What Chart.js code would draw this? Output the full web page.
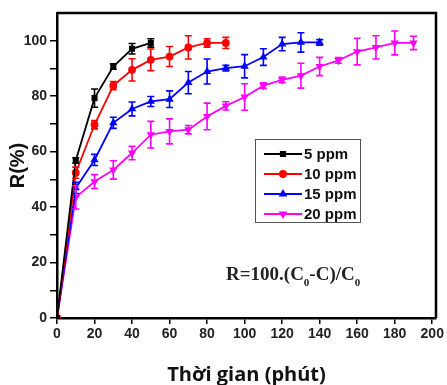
<!DOCTYPE html>
<html>
<head>
<meta charset="utf-8">
<script src="https://cdn.jsdelivr.net/npm/chart.js@4.4.0/dist/chart.umd.min.js"></script>
<style>
  html, body { margin: 0; padding: 0; background: #fff; }
  #wrap { width: 447px; height: 385px; }
</style>
</head>
<body>
<div id="wrap"><canvas id="chart" width="447" height="385"></canvas></div>
<script>
// du lieu doc tu hinh
const time5 = [0, 10, 20, 30, 40, 50];
const r5 = [0, 56.8, 79.3, 90.7, 97.1, 99.2];
const err5 = [0, 1, 3.3, 1, 1.9, 1.5];

const time10 = [0, 10, 20, 30, 40, 50, 60, 70, 80, 90];
const r10 = [0, 52.4, 69.7, 83.8, 89.5, 93.1, 94.3, 97.6, 99.2, 99.2];
const err10 = [0, 2, 1.5, 1.5, 4, 3.9, 3.6, 4.2, 1.5, 2];

const time15 = [0, 10, 20, 30, 40, 50, 60, 70, 80, 90, 100, 110, 120, 130, 140];
const r15 = [0, 46.9, 57, 70.4, 75.4, 78.1, 78.9, 84.9, 88.9, 90.1, 90.8, 94.1, 98.8, 99.4, 99.4];
const err15 = [0, 2, 2, 2, 2.5, 1.8, 3, 4, 4.5, 1, 4.2, 3, 2.4, 3.5, 1];

const time20 = [0, 10, 20, 30, 40, 50, 60, 70, 80, 90, 100, 110, 120, 130, 140, 150, 160, 170, 180, 190];
const r20 = [0, 43.5, 49.2, 53.4, 59.5, 66.1, 67.3, 67.9, 72.7, 76.5, 79.7, 83.8, 85.9, 87.4, 90.7, 92.9, 96.1, 97.6, 99.2, 99.2];
const err20 = [0, 4.2, 2.5, 3.3, 2.4, 4.8, 4.5, 1.5, 4.8, 1.5, 4.8, 1, 1, 4.5, 3.3, 1, 4.8, 4.2, 4.3, 2.4];

const seriesLabels = ['5 ppm', '10 ppm', '15 ppm', '20 ppm'];
const xTicks = [0, 20, 40, 60, 80, 100, 120, 140, 160, 180, 200];
const yTicks = [0, 10, 20, 30, 40, 50, 60, 70, 80, 90, 100]; // nhan chi o boi so 20
const xTitle = 'Thời gian (phút)';
const yTitle = 'R(%)';

function pts(t, v, e) {
    return t.map((x, i) => ({ x: x, y: v[i], e: e[i] }));
}

function makeSet(label, data, color, style, rot) {
    return {
        label: label,
        data: data,
        borderColor: color,
        backgroundColor: color,
        borderWidth: 1.8,
        pointStyle: style,
        rotation: rot,
        pointRadius: 3,
        pointHoverRadius: 3,
        tension: 0
    };
}

// thanh sai so
const errorBars = {
    id: 'errorBars',
    afterDatasetsDraw(chart) {
        const ctx = chart.ctx;
        const y = chart.scales.y;
        chart.data.datasets.forEach((ds, di) => {
            const meta = chart.getDatasetMeta(di);
            ctx.save();
            ctx.strokeStyle = ds.borderColor;
            ctx.lineWidth = 1.6;
            meta.data.forEach((pt, i) => {
                const raw = ds.data[i];
                if (!raw.e) return;
                const top = y.getPixelForValue(raw.y + raw.e);
                const bot = y.getPixelForValue(raw.y - raw.e);
                ctx.beginPath();
                ctx.moveTo(pt.x, top); ctx.lineTo(pt.x, bot);
                ctx.moveTo(pt.x - 3.5, top); ctx.lineTo(pt.x + 3.5, top);
                ctx.moveTo(pt.x - 3.5, bot); ctx.lineTo(pt.x + 3.5, bot);
                ctx.stroke();
            });
            ctx.restore();
        });
    }
};

// khung, chu thich, tieu de truc
const decor = {
    id: 'decor',
    afterDraw(chart) {
        const ctx = chart.ctx;
        const a = chart.chartArea;
        ctx.save();
        ctx.strokeStyle = '#000';
        ctx.lineWidth = 2.5;
        ctx.beginPath();
        ctx.moveTo(a.left, a.top);
        ctx.lineTo(a.right, a.top);
        ctx.lineTo(a.right, a.bottom);
        ctx.stroke();

        // legend box
        ctx.lineWidth = 1;
        ctx.strokeStyle = '#555';
        ctx.strokeRect(255.5, 139.5, 105, 83);
        chart.data.datasets.forEach((ds, i) => {
            const ly = 154 + i * 20;
            ctx.strokeStyle = ds.borderColor;
            ctx.lineWidth = 2;
            ctx.beginPath();
            ctx.moveTo(264, ly); ctx.lineTo(302, ly);
            ctx.stroke();
            ctx.fillStyle = ds.borderColor;
            Chart.helpers.drawPoint(ctx, { pointStyle: ds.pointStyle, radius: 3, rotation: ds.rotation || 0, borderWidth: 1 }, 283, ly);
            ctx.fillStyle = '#111';
            ctx.font = 'bold 15px "Liberation Sans", Arial, sans-serif';
            ctx.textAlign = 'left';
            ctx.textBaseline = 'middle';
            ctx.fillText(ds.label, 304, ly + 1);
        });

        // cong thuc
        ctx.fillStyle = '#222';
        ctx.textBaseline = 'alphabetic';
        let x = 226;
        const big = 'bold 19px "Liberation Serif", "Times New Roman", serif';
        const small = 'bold 11px "Liberation Serif", "Times New Roman", serif';
        const parts = [['R=100.(C', big, 280], ['0', small, 286], ['-C)/C', big, 280], ['0', small, 286]];
        parts.forEach(p => {
            ctx.font = p[1];
            ctx.fillText(p[0], x, p[2]);
            x += ctx.measureText(p[0]).width;
        });

        // tieu de truc
        ctx.fillStyle = '#111';
        ctx.font = 'bold 20px "Open Sans", sans-serif';
        ctx.textAlign = 'center';
        ctx.textBaseline = 'alphabetic';
        ctx.fillText(xTitle, (a.left + a.right) / 2, 381);
        ctx.translate(18, (a.top + a.bottom) / 2);
        ctx.rotate(-Math.PI / 2);
        ctx.font = 'bold 20px "Liberation Sans", Arial, sans-serif';
        ctx.textBaseline = 'middle';
        ctx.fillText(yTitle, 0, 0);
        ctx.restore();
    }
};

const tickFont = { family: '"Liberation Sans", Arial, sans-serif', size: 14, weight: 'bold' };

new Chart(document.getElementById('chart').getContext('2d'), {
    type: 'line',
    data: {
        datasets: [
            makeSet(seriesLabels[0], pts(time5, r5, err5), '#000000', 'rect', 0),
            makeSet(seriesLabels[1], pts(time10, r10, err10), '#ff0000', 'circle', 0),
            makeSet(seriesLabels[2], pts(time15, r15, err15), '#0000ff', 'triangle', 0),
            makeSet(seriesLabels[3], pts(time20, r20, err20), '#ff00ff', 'triangle', 180)
        ]
    },
    options: {
        responsive: false,
        animation: false,
        devicePixelRatio: 1,
        layout: { padding: { top: 13, right: 11, left: 0, bottom: 0 } },
        plugins: { legend: { display: false }, tooltip: { enabled: false } },
        scales: {
            x: {
                type: 'linear',
                min: 0,
                max: 202,
                afterBuildTicks: s => { s.ticks = xTicks.map(v => ({ value: v })); },
                afterFit: s => { s.height = 67; },
                ticks: { color: '#222', font: tickFont, padding: 2, maxRotation: 0, autoSkip: false },
                grid: { drawOnChartArea: false, tickLength: 6, color: '#000', lineWidth: 1.5 },
                border: { display: true, color: '#000', width: 2.5 }
            },
            y: {
                min: 0,
                max: 110,
                afterBuildTicks: s => { s.ticks = yTicks.map(v => ({ value: v })); },
                afterFit: s => { s.width = 57; },
                ticks: { color: '#222', font: tickFont, padding: 3, autoSkip: false,
                    callback: v => (v % 20 === 0 ? v : '') },
                grid: { drawOnChartArea: false, tickLength: 7, color: '#000', lineWidth: 1.5 },
                border: { display: true, color: '#000', width: 2.5 }
            }
        }
    },
    plugins: [errorBars, decor]
});
</script>
</body>
</html>
